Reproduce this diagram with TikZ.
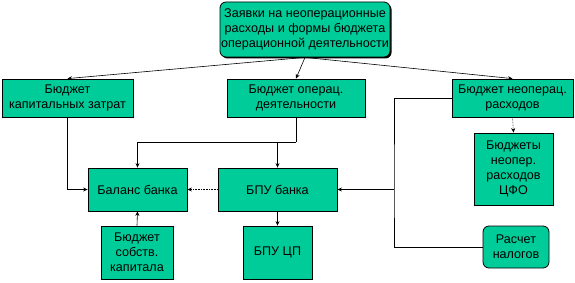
\documentclass[tikz,border=0pt]{standalone}
\usepackage{fontspec}
\setmainfont{Liberation Sans}
\usetikzlibrary{arrows.meta,shadows}
\definecolor{boxgreen}{RGB}{0,204,153}
\begin{document}
\begin{tikzpicture}[x=1pt,y=-1pt,
  box/.style={draw=black,line width=0.8pt,fill=boxgreen,align=center,inner sep=1pt,
    font=\fontsize{12.6}{15}\selectfont},
  rbox/.style={box,rounded corners=6pt},
  arr/.style={-{Stealth[length=4.5pt,width=4pt]},line width=0.6pt},
  ln/.style={line width=0.6pt},
  dotarr/.style={arr,densely dotted}]
\useasboundingbox (0,0) rectangle (575,283);
\node[rbox,minimum width=170pt,minimum height=55pt,
  drop shadow={shadow xshift=1.5pt,shadow yshift=-1.5pt,fill=black,opacity=1}]
  (top) at (305,29.5) {Заявки на неоперационные\\расходы и формы бюджета\\операционной деятельности};
\node[box,minimum width=131pt,minimum height=38pt] (kap) at (67.5,98) {Бюджет\\капитальных затрат};
\node[box,minimum width=138pt,minimum height=38pt] (oper) at (296,98) {Бюджет операц.\\деятельности};
\node[box,minimum width=121pt,minimum height=38pt] (neop) at (512.5,98) {Бюджет неоперац.\\расходов};
\node[box,minimum width=79pt,minimum height=72pt] (cfo) at (513.5,169) {Бюджеты\\неопер.\\расходов\\ЦФО};
\node[box,minimum width=99pt,minimum height=43pt] (bal) at (137.5,189.5) {Баланс банка};
\node[box,minimum width=119pt,minimum height=43pt] (bpu) at (277.5,189.5) {БПУ банка};
\node[box,minimum width=72pt,minimum height=53pt] (sob) at (137,252.5) {Бюджет\\собств.\\капитала};
\node[box,minimum width=69pt,minimum height=53pt] (cp) at (277.5,252.5) {БПУ ЦП};
\node[rbox,minimum width=66pt,minimum height=42pt] (nal) at (516,247) {Расчет\\налогов};
\draw[arr] (top.south) -- (kap.north);
\draw[arr] (top.south) -- (oper.north);
\draw[arr] (top.south) -- (neop.north);
\draw[arr] (kap.south) |- (bal.west);
\draw[ln] (oper.south) -- ++(0,25) coordinate (j);
\draw[arr] (j) -| (bal.north);
\draw[arr] (j) -| (bpu.north);
\draw[dotarr] (neop.south) -- (cfo.north);
\coordinate (v) at (394,189.5);
\draw[ln] (neop.west) -| (v) |- (nal.west);
\draw[arr] (v) -- (bpu.east);
\draw[dotarr] (bpu.west) -- (bal.east);
\draw[arr] (sob.north) -- (bal.south);
\draw[arr] (bpu.south) -- (cp.north);
\end{tikzpicture}
\end{document}
